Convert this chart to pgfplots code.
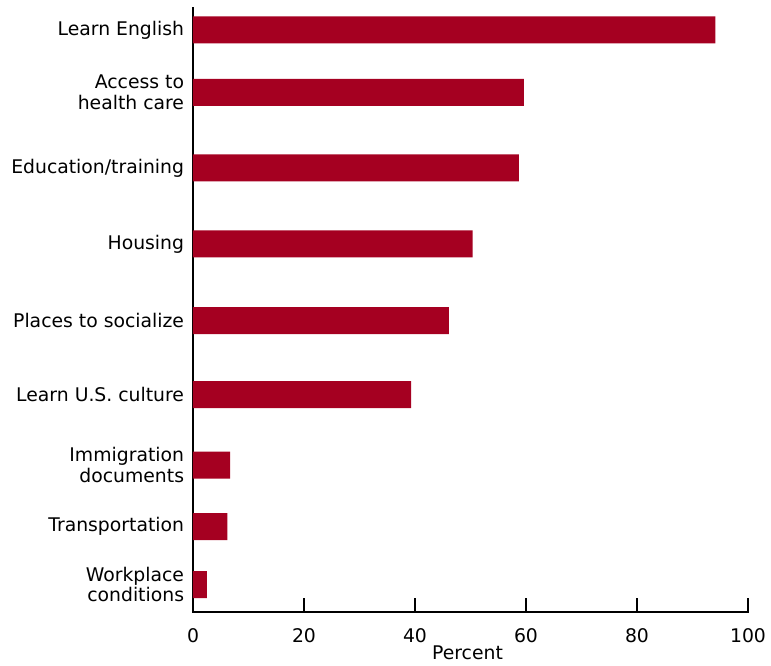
\documentclass[border=0pt]{standalone}
\usepackage{pgfplots}
\pgfplotsset{compat=1.18}
\usepackage{fontspec}
\setmainfont{DejaVu Sans}
\definecolor{barred}{HTML}{A50021}

\begin{document}
\fontsize{18.8}{20.5}\selectfont
\begin{tikzpicture}
\begin{axis}[
    scale only axis,
    width=555pt, height=604pt,
    xmin=0, xmax=100,
    ymin=0, ymax=604,
    axis lines*=left,
    axis line style={line width=2.8pt, line cap=rect},
    xtick={0,20,40,60,80,100},
    x tick label style={/pgf/number format/assume math mode=true, yshift=-10pt},
    xtick align=inside,
    major tick length=14pt,
    tick style={line width=2pt, black},
    ytick={582,519.5,444,368,291.5,217.5,147,85.5,27.5},
    yticklabels={Learn English, {Access to\\health care}, Education/training,
        Housing, Places to socialize, Learn U.S. culture,
        {Immigration\\documents}, Transportation, {Workplace\\conditions}},
    y tick label style={align=right, xshift=11.5pt},
    y tick style={draw=none},
    xlabel={Percent},
    xlabel style={at={(axis description cs:0.4946,0)}, anchor=north, yshift=-34pt, inner sep=0pt},
    ticklabel style={font=\fontsize{18.8}{20.5}\selectfont},
    label style={font=\fontsize{18.8}{20.5}\selectfont},
    xbar, bar width=27, bar shift=0pt,
]
\addplot[fill=barred, draw=none] coordinates {
    (94.1,582) (59.6,519.5) (58.7,444) (50.4,368) (46.1,291.5)
    (39.3,217.5) (6.7,147) (6.2,85.5) (2.5,27.5)
};
\end{axis}
\pgfresetboundingbox
\path (-193pt,-53pt) rectangle (578pt,612pt);
\end{tikzpicture}
\end{document}
